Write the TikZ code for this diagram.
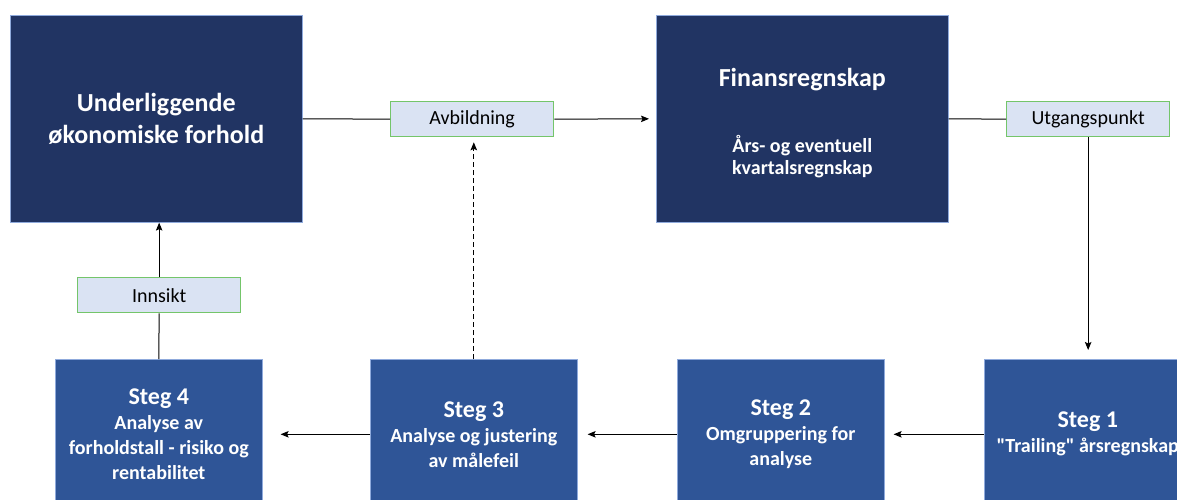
\documentclass[tikz,border=0pt]{standalone}
\usepackage{fontspec}
\setmainfont{Carlito}[Ligatures=TeXOff]
\usetikzlibrary{arrows.meta}

\definecolor{navy}{HTML}{213463}
\definecolor{stepblue}{HTML}{2F5597}
\definecolor{edgeblue}{HTML}{8FAADC}
\definecolor{tagfill}{HTML}{DAE3F3}
\definecolor{taggreen}{HTML}{74C56A}

\newcommand\hdfont{\fontsize{26}{31.7}\selectfont}
\newcommand\stfont{\fontsize{24}{26}\selectfont}

\begin{document}
\begin{tikzpicture}[x=1pt,y=-1pt,
  topbox/.style={draw=edgeblue, line width=0.6pt, fill=navy, text=white,
    minimum width=292pt, minimum height=207pt, inner sep=0pt,
    align=center, anchor=north west},
  stepbox/.style={draw=edgeblue, line width=0.6pt, fill=stepblue, text=white,
    minimum width=207pt, minimum height=150pt, inner sep=0pt,
    align=center, anchor=north west,
    font=\bfseries\fontsize{20}{25}\selectfont},
  tag/.style={draw=taggreen, line width=1.3pt, fill=tagfill,
    minimum width=163pt, minimum height=35pt, inner sep=0pt,
    anchor=north west, font=\fontsize{20}{24}\selectfont},
  link/.style={line width=1pt, draw=black},
  arr/.style={link, -{Stealth[length=8pt,width=6.5pt,inset=1.5pt]}}]

  \useasboundingbox (0,0) rectangle (1177,500);
  \clip (0,0) rectangle (1177,500);

  % upper row
  \node[topbox, font=\bfseries\hdfont] (eco) at (10,15)
    {Underliggende\\økonomiske forhold};
  \node[topbox] (fin) at (656,15) {};
  \node[white, align=center, inner sep=0pt, yshift=-4pt,
        font=\bfseries\fontsize{20}{22}\selectfont] (fintext) at (fin.center)
    {{\hdfont Finansregnskap}\\[44pt]Års- og eventuell\\kvartalsregnskap};

  % labels on the connectors
  \node[tag] (avb) at (390,101) {Avbildning};
  \node[tag] (utg) at (1006,101) {Utgangspunkt};
  \node[tag] (inn) at (77,277) {Innsikt};

  % lower row: analysis steps
  \node[stepbox] (s4) at (55,359)
    {{\stfont Steg 4}\\Analyse av\\forholdstall - risiko og\\rentabilitet};
  \node[stepbox] (s3) at (370,359)
    {{\stfont Steg 3}\\Analyse og justering\\av målefeil};
  \node[stepbox] (s2) at (677,359)
    {{\stfont Steg 2}\\Omgruppering for\\analyse};
  \node[stepbox] (s1) at (984,359)
    {{\stfont Steg 1}\\"Trailing" årsregnskap};

  % connectors
  \draw[link] (eco.east) -- (avb.west);
  \draw[arr, shorten >=7pt] (avb.east) -- (fin.west);
  \draw[link] (fin.east) -- (utg.west);
  \draw[arr, shorten >=9pt] (utg.south) -- (utg.south |- s1.north);
  \draw[arr, shorten >=9pt] (s1.west) -- (s2.east);
  \draw[arr, shorten >=10pt] (s2.west) -- (s3.east);
  \draw[arr, shorten >=18pt] (s3.west) -- (s4.east);
  \draw[link] (s4.north) -- (inn.south);
  \draw[arr] (inn.north) -- (inn.north |- eco.south);
  \draw[arr, dash pattern=on 5pt off 3pt, shorten >=5pt]
    (s3.north) -- (s3.north |- avb.south);
\end{tikzpicture}
\end{document}
